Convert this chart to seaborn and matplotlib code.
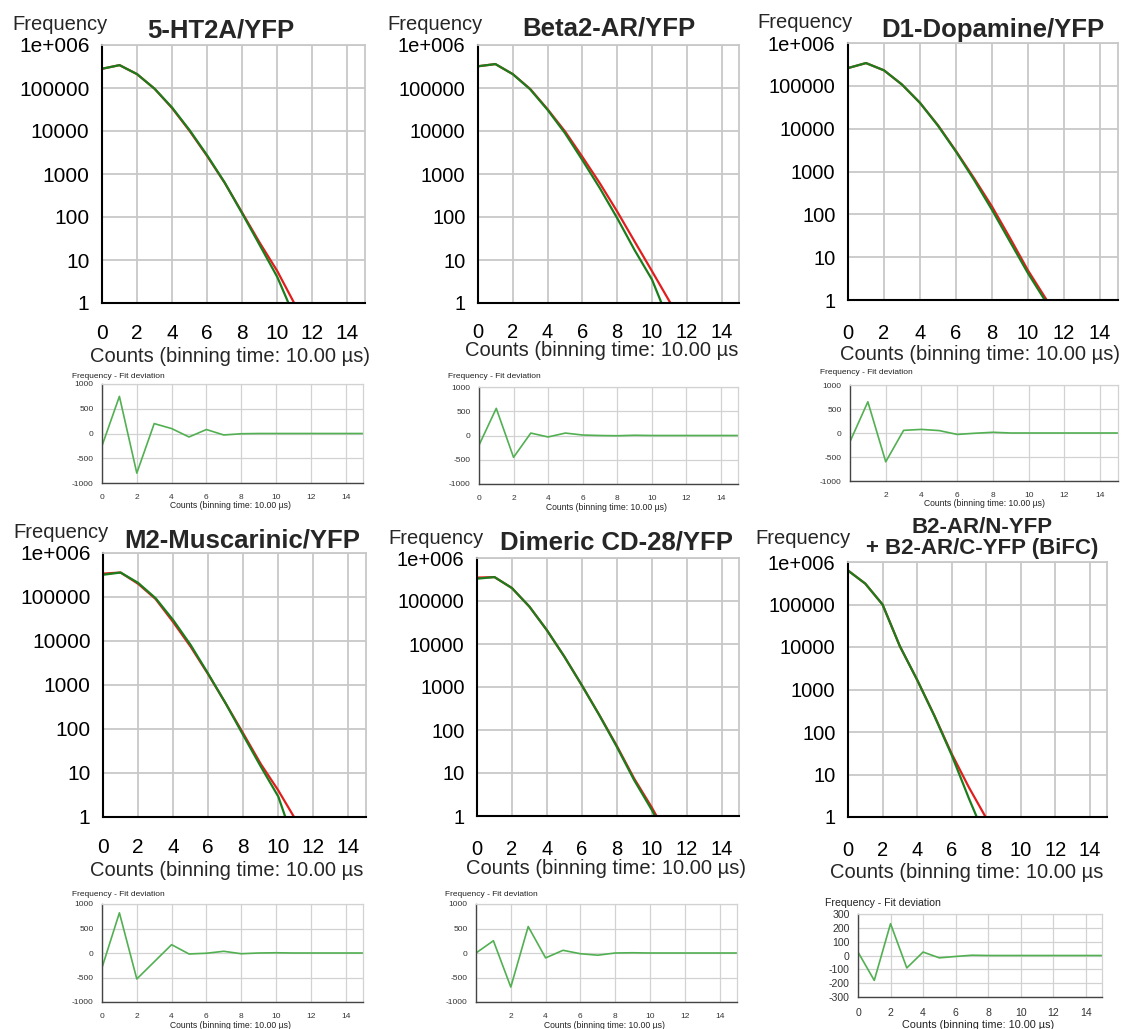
import numpy as np
import pandas as pd
import matplotlib
matplotlib.use("Agg")
import matplotlib.pyplot as plt
import seaborn as sns

sns.set_style("white")
plt.rcParams['font.family'] = ['Liberation Sans', 'DejaVu Sans']
plt.rcParams['axes.unicode_minus'] = False

# ---------------- data ----------------
titles = ["5-HT2A/YFP", "Beta2-AR/YFP", "D1-Dopamine/YFP",
          "M2-Muscarinic/YFP", "Dimeric CD-28/YFP",
          "B2-AR/N-YFP\n+ B2-AR/C-YFP (BiFC)"]
xlabels_main = ["Counts (binning time: 10.00 µs)", "Counts (binning time: 10.00 µs",
                "Counts (binning time: 10.00 µs)", "Counts (binning time: 10.00 µs",
                "Counts (binning time: 10.00 µs)", "Counts (binning time: 10.00 µs"]
ytick_vals = [1, 10, 100, 1000, 10000, 100000, 1000000]
ytick_labels = ["1", "10", "100", "1000", "10000", "100000", "1e+006"]

# measured frequency (green) and fit (red), counts 0,1,2,...
green_5ht2a = [2.8e5, 3.4e5, 2.1e5, 9.6e4, 3.5e4, 1.04e4, 2.7e3, 630, 120, 22, 4.0, 0.45]
red_5ht2a   = [2.8e5, 3.4e5, 2.1e5, 9.6e4, 3.4e4, 1.0e4, 2.6e3, 620, 125, 25, 5.5, 0.93]
green_beta2 = [3.2e5, 3.6e5, 2.1e5, 9.3e4, 3.1e4, 8.9e3, 2.1e3, 470, 94, 17, 3.5, 0.35]
red_beta2   = [3.2e5, 3.6e5, 2.1e5, 9.5e4, 3.2e4, 9.8e3, 2.5e3, 610, 134, 27, 5.5, 1.1, 0.25]
green_d1    = [2.6e5, 3.4e5, 2.3e5, 1.07e5, 4.0e4, 1.17e4, 2.9e3, 640, 127, 23, 4.2, 0.9, 0.2]
red_d1      = [2.6e5, 3.4e5, 2.3e5, 1.07e5, 4.0e4, 1.2e4, 3.0e3, 700, 152, 28, 4.9, 1.06, 0.2]
green_m2    = [3.2e5, 3.6e5, 2.1e5, 9.4e4, 3.0e4, 8.1e3, 1.8e3, 380, 72, 14, 2.9, 0.2]
red_m2      = [3.4e5, 3.6e5, 2.0e5, 9.0e4, 2.7e4, 7.4e3, 1.75e3, 380, 79, 16, 4.0, 0.85, 0.15]
green_cd28  = [3.3e5, 3.6e5, 2.0e5, 7.4e4, 2.1e4, 5.1e3, 1.1e3, 222, 41, 6.8, 1.4, 0.24]
red_cd28    = [3.5e5, 3.6e5, 2.0e5, 7.4e4, 2.1e4, 5.1e3, 1.1e3, 225, 43, 7.4, 1.6, 0.3]
green_bifc  = [6.3e5, 3.1e5, 1.0e5, 1.05e4, 1.7e3, 240, 29, 2.75, 0.3]
red_bifc    = [6.3e5, 3.1e5, 1.0e5, 1.05e4, 1.7e3, 245, 31, 5.0, 0.95, 0.15]

# fit deviations, counts 0..15
dev_5ht2a = [-250, 750, -800, 200, 100, -70, 80, -30, -5, 0, 0, 0, 0, 0, 0, 0]
dev_beta2 = [-200, 560, -450, 50, -30, 50, 10, 0, -5, 5, 0, 0, 0, 0, 0, 0]
dev_d1    = [-180, 650, -600, 55, 75, 50, -30, -5, 15, 0, 0, 0, 0, 0, 0, 0]
dev_m2    = [-300, 820, -530, -180, 170, -20, -5, 35, -15, 0, 5, 0, 0, 0, 0, 0]
dev_cd28  = [0, 250, -695, 540, -100, 55, -15, -45, 0, 5, 0, 0, 0, 0, 0, 0]
dev_bifc  = [25, -180, 230, -90, 25, -17, -7, 2, 0, 0, 0, 0, 0, 0, 0, 0]

greens = [green_5ht2a, green_beta2, green_d1, green_m2, green_cd28, green_bifc]
reds = [red_5ht2a, red_beta2, red_d1, red_m2, red_cd28, red_bifc]
devs = [dev_5ht2a, dev_beta2, dev_d1, dev_m2, dev_cd28, dev_bifc]

# ---------------- layout (pixels) ----------------
W, H = 1129, 1029
RED = "#e01e1e"
GREEN = "#1c7d1c"
RESID = "#52b052"
GRID = "#c8c8c8"

main_rects = [(102, 45, 365, 303), (478, 45, 739, 303), (848, 43, 1118, 300),
              (103, 553, 366, 817), (477, 558, 739, 816), (848, 562, 1107, 817)]
res_rects = [(102, 384, 363, 483), (479, 387, 738, 484), (850, 385, 1118, 481),
             (102, 904, 363, 1002), (476, 904, 737, 1002), (858, 914, 1102, 997)]
title_pos = [(221, 30), (609, 28), (993, 30), (242, 540), (616, 543), (982, 538)]
title_fs = [18.5, 18.5, 18.5, 18.5, 18.5, 16]
freq_pos = [(12, 25), (387, 24), (757, 23), (13, 532), (388, 538), (755, 539)]
xlab_pos = [(230, 356), (602, 351), (980, 355), (227, 871), (606, 869), (967, 872)]
tick_fs = [15.0, 14.5, 14.5, 15.0, 14.5, 14.5]
x_pad = [8, 7.5, 10, 8, 10, 10]
res_lab_pos = [(72, 376), (448, 377), (820, 373), (72, 894), (445, 895), (825, 903)]
res_xlab_pos = [(231, 506), (607, 507), (985, 504), (231, 1026), (605, 1026), (978, 1025)]
res_fs = [6.0, 6.0, 6.0, 6.0, 6.0, 7.6]


def rect(l, t, r, b):
    return [l / W, 1 - b / H, (r - l) / W, (b - t) / H]


def fx(x):
    return x / W


def fy(y):
    return 1 - y / H


fig = plt.figure(figsize=(W / 100, H / 100), dpi=100)

for i in range(6):
    # ---------- main log panel ----------
    ax = fig.add_axes(rect(*main_rects[i]))
    r = reds[i]
    g = greens[i]
    sns.lineplot(x=np.arange(len(r)), y=r, ax=ax, color=RED, linewidth=1.6)
    sns.lineplot(x=np.arange(len(g)), y=g, ax=ax, color=GREEN, linewidth=1.6)
    ax.set_yscale("log")
    ax.set_ylim(1, 1e6)
    ax.set_xlim(0, 15)
    ax.set_xticks(range(0, 15, 2))
    ax.set_yticks(ytick_vals)
    ax.set_yticklabels(ytick_labels)
    ax.minorticks_off()
    ax.grid(True, color=GRID, linewidth=1.3)
    ax.set_axisbelow(True)
    for s in ["top", "right"]:
        ax.spines[s].set_color(GRID)
        ax.spines[s].set_linewidth(1.3)
    for s in ["left", "bottom"]:
        ax.spines[s].set_color("black")
        ax.spines[s].set_linewidth(1.5)
    ax.tick_params(axis="both", direction="out", length=7, width=1.4,
                   colors="black", labelsize=tick_fs[i])
    ax.tick_params(axis="y", pad=2)
    ax.tick_params(axis="x", pad=x_pad[i])
    ax.set_xlabel("")
    ax.set_ylabel("")

    fig.text(fx(title_pos[i][0]), fy(title_pos[i][1]), titles[i], ha="center",
             va="center", fontsize=title_fs[i], fontweight="bold",
             linespacing=1.05)
    fig.text(fx(freq_pos[i][0]), fy(freq_pos[i][1]), "Frequency", ha="left",
             va="center", fontsize=14.5)
    fig.text(fx(xlab_pos[i][0]), fy(xlab_pos[i][1]), xlabels_main[i],
             ha="center", va="center", fontsize=14.5)

    # ---------- residual panel ----------
    axr = fig.add_axes(rect(*res_rects[i]))
    d = devs[i]
    sns.lineplot(x=np.arange(len(d)), y=d, ax=axr, color=RESID, linewidth=1.2)
    axr.set_xlim(0, 15)
    if i == 5:
        axr.set_ylim(-300, 300)
        axr.set_yticks(range(-300, 301, 100))
    else:
        axr.set_ylim(-1000, 1000)
        axr.set_yticks(range(-1000, 1001, 500))
    axr.grid(True, color="#d2d2d2", linewidth=0.9)
    if i in (2, 4):
        axr.set_xticks(range(2, 15, 2))
    else:
        axr.set_xticks(range(0, 15, 2))
    axr.set_axisbelow(True)
    for s in ["top", "right"]:
        axr.spines[s].set_color("#d2d2d2")
        axr.spines[s].set_linewidth(0.9)
    for s in ["left", "bottom"]:
        axr.spines[s].set_color("#444444")
        axr.spines[s].set_linewidth(1.0)
    axr.tick_params(axis="both", direction="out", length=3, width=0.8,
                    colors="#333333", labelsize=res_fs[i])
    axr.tick_params(axis="x", pad=5)
    axr.tick_params(axis="y", pad=3)
    axr.set_xlabel("")
    axr.set_ylabel("")
    fig.text(fx(res_lab_pos[i][0]), fy(res_lab_pos[i][1]),
             "Frequency - Fit deviation", ha="left", va="center",
             fontsize=res_fs[i], color="#222222")
    fig.text(fx(res_xlab_pos[i][0]), fy(res_xlab_pos[i][1]),
             "Counts (binning time: 10.00 µs)", ha="center", va="center",
             fontsize=res_fs[i] + 0.2, color="#222222")

fig.savefig("out.png", dpi=100, facecolor="white")
